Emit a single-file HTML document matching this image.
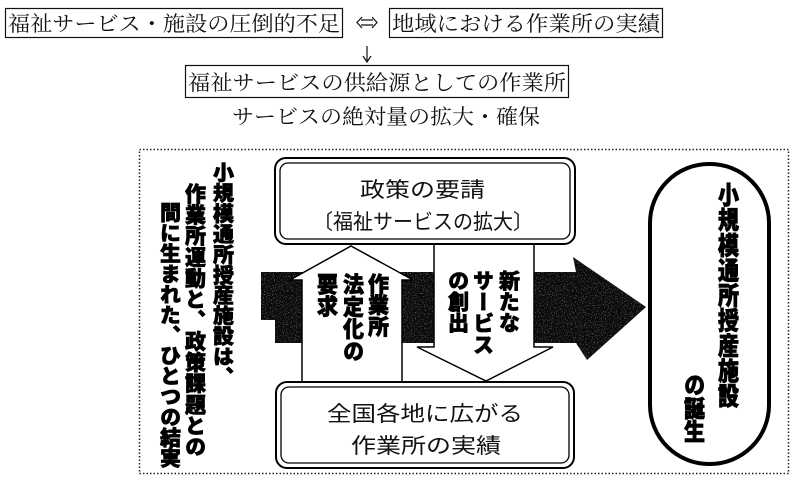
<!DOCTYPE html>
<html><head><meta charset="utf-8"><style>
html,body{margin:0;padding:0;background:#fff;}
svg{display:block;}
.s{font-family:"Liberation Serif","Noto Serif CJK SC","Noto Serif CJK JP",serif;font-size:21px;fill:#111;}
.g{font-family:"Liberation Sans","Noto Sans CJK JP",sans-serif;font-size:21px;fill:#111;}
.b{font-family:"Liberation Sans","Noto Sans CJK JP",sans-serif;font-weight:900;font-size:21px;fill:#000;stroke:#000;stroke-width:0.7;}
.v{writing-mode:vertical-rl;}
</style></head><body>
<svg width="800" height="482" viewBox="0 0 800 482" xmlns="http://www.w3.org/2000/svg">
<defs>
<filter id="n" x="0" y="0" width="100%" height="100%">
<feTurbulence type="fractalNoise" baseFrequency="0.9" numOctaves="1" seed="3" result="t"/>
<feColorMatrix in="t" type="matrix" values="0 0 0 0 0.4  0 0 0 0 0.4  0 0 0 0 0.4  0 0 0 -3 1.35" result="m"/>
<feComposite in="m" in2="SourceGraphic" operator="in"/>
</filter>
</defs>
<!-- top section -->
<rect x="5.5" y="8.5" width="337" height="29" fill="none" stroke="#111" stroke-width="1.2"/>
<text class="s" x="8" y="31" textLength="332" lengthAdjust="spacingAndGlyphs">福祉サービス・施設の圧倒的不足</text>
<g stroke="#111" stroke-width="1.2" fill="none">
<path d="M361,20 L373,20 M361,25 L373,25"/>
<path d="M362,17 L357,22.5 L362,28"/>
<path d="M372,17 L377,22.5 L372,28"/>
</g>
<rect x="389.5" y="8.5" width="273" height="29" fill="none" stroke="#111" stroke-width="1.2"/>
<text class="s" x="392" y="31" textLength="268" lengthAdjust="spacingAndGlyphs">地域における作業所の実績</text>
<line x1="367" y1="46" x2="367" y2="61" stroke="#111" stroke-width="1.2"/>
<path d="M363,56 L367,62 L371,56" fill="none" stroke="#111" stroke-width="1.2"/>
<rect x="185.5" y="65.5" width="383" height="32" fill="none" stroke="#111" stroke-width="1.2"/>
<text class="s" x="188" y="90" textLength="378" lengthAdjust="spacingAndGlyphs">福祉サービスの供給源としての作業所</text>
<text class="s" x="232" y="124" textLength="308" lengthAdjust="spacingAndGlyphs">サービスの絶対量の拡大・確保</text>

<!-- frame -->
<rect x="139.5" y="149.5" width="649" height="324" fill="none" stroke="#222" stroke-width="1.5" stroke-dasharray="1.5 2"/>

<!-- left vertical text -->
<text class="b v" x="222" y="162" textLength="225" lengthAdjust="spacingAndGlyphs">小規模通所授産施設は、</text>
<text class="b v" x="194" y="183" textLength="274" lengthAdjust="spacingAndGlyphs">作業所運動と、政策課題との</text>
<text class="b v" x="169" y="202" textLength="266" lengthAdjust="spacingAndGlyphs">間に生まれた、ひとつの結実</text>

<!-- dark big arrow -->
<path d="M261,272 L576,272 L573,257 L646,307 L587,360 L576,343 L275,343 L275,320 L261,320 Z" fill="#0a0a0a"/>
<path d="M261,272 L576,272 L573,257 L646,307 L587,360 L576,343 L275,343 L275,320 L261,320 Z" fill="#fff" filter="url(#n)"/>

<!-- up arrow -->
<path d="M302,383 L302,280 L290,280 L351,246 L413,280 L402,280 L402,383 Z" fill="#fff" stroke="#000" stroke-width="1.5"/>
<!-- down arrow -->
<path d="M434,242 L434,347 L417,347 L486,381 L553,347 L534,347 L534,242 Z" fill="#fff" stroke="#000" stroke-width="1.5"/>

<!-- top box -->
<rect x="275" y="158" width="300" height="86" rx="11" fill="#fff" stroke="#000" stroke-width="2"/>
<rect x="280" y="163" width="290" height="76" rx="8" fill="none" stroke="#000" stroke-width="1.3"/>
<text class="g" x="360" y="197" textLength="125" lengthAdjust="spacingAndGlyphs">政策の要請</text>
<text class="g" x="313" y="229" textLength="220" lengthAdjust="spacingAndGlyphs">〔福祉サービスの拡大〕</text>

<!-- bottom box -->
<rect x="276" y="382" width="298" height="86" rx="11" fill="#fff" stroke="#000" stroke-width="2"/>
<rect x="281" y="387" width="288" height="76" rx="8" fill="none" stroke="#000" stroke-width="1.3"/>
<text class="g" x="327" y="421" textLength="196" lengthAdjust="spacingAndGlyphs">全国各地に広がる</text>
<text class="g" x="351" y="453" textLength="150" lengthAdjust="spacingAndGlyphs">作業所の実績</text>

<!-- arrow texts -->
<text class="b v" x="377" y="273" textLength="64" lengthAdjust="spacingAndGlyphs">作業所</text>
<text class="b v" x="352" y="273" textLength="89" lengthAdjust="spacingAndGlyphs">法定化の</text>
<text class="b v" x="326" y="273" textLength="44" lengthAdjust="spacingAndGlyphs">要求</text>
<text class="b v" x="508" y="270" textLength="63" lengthAdjust="spacingAndGlyphs">新たな</text>
<text class="b v" x="482" y="270" textLength="85" lengthAdjust="spacingAndGlyphs">サービス</text>
<text class="b v" x="457" y="270" textLength="63" lengthAdjust="spacingAndGlyphs">の創出</text>

<!-- pill -->
<rect x="650" y="164" width="119" height="300" rx="59" fill="#fff" stroke="#000" stroke-width="4"/>
<text class="b v" x="727" y="182" font-size="24" stroke-width="1.2" textLength="226" lengthAdjust="spacingAndGlyphs">小規模通所授産施設</text>
<text class="b v" x="693" y="373" font-size="24" stroke-width="1.2" textLength="70" lengthAdjust="spacingAndGlyphs">の誕生</text>
</svg>
</body></html>
